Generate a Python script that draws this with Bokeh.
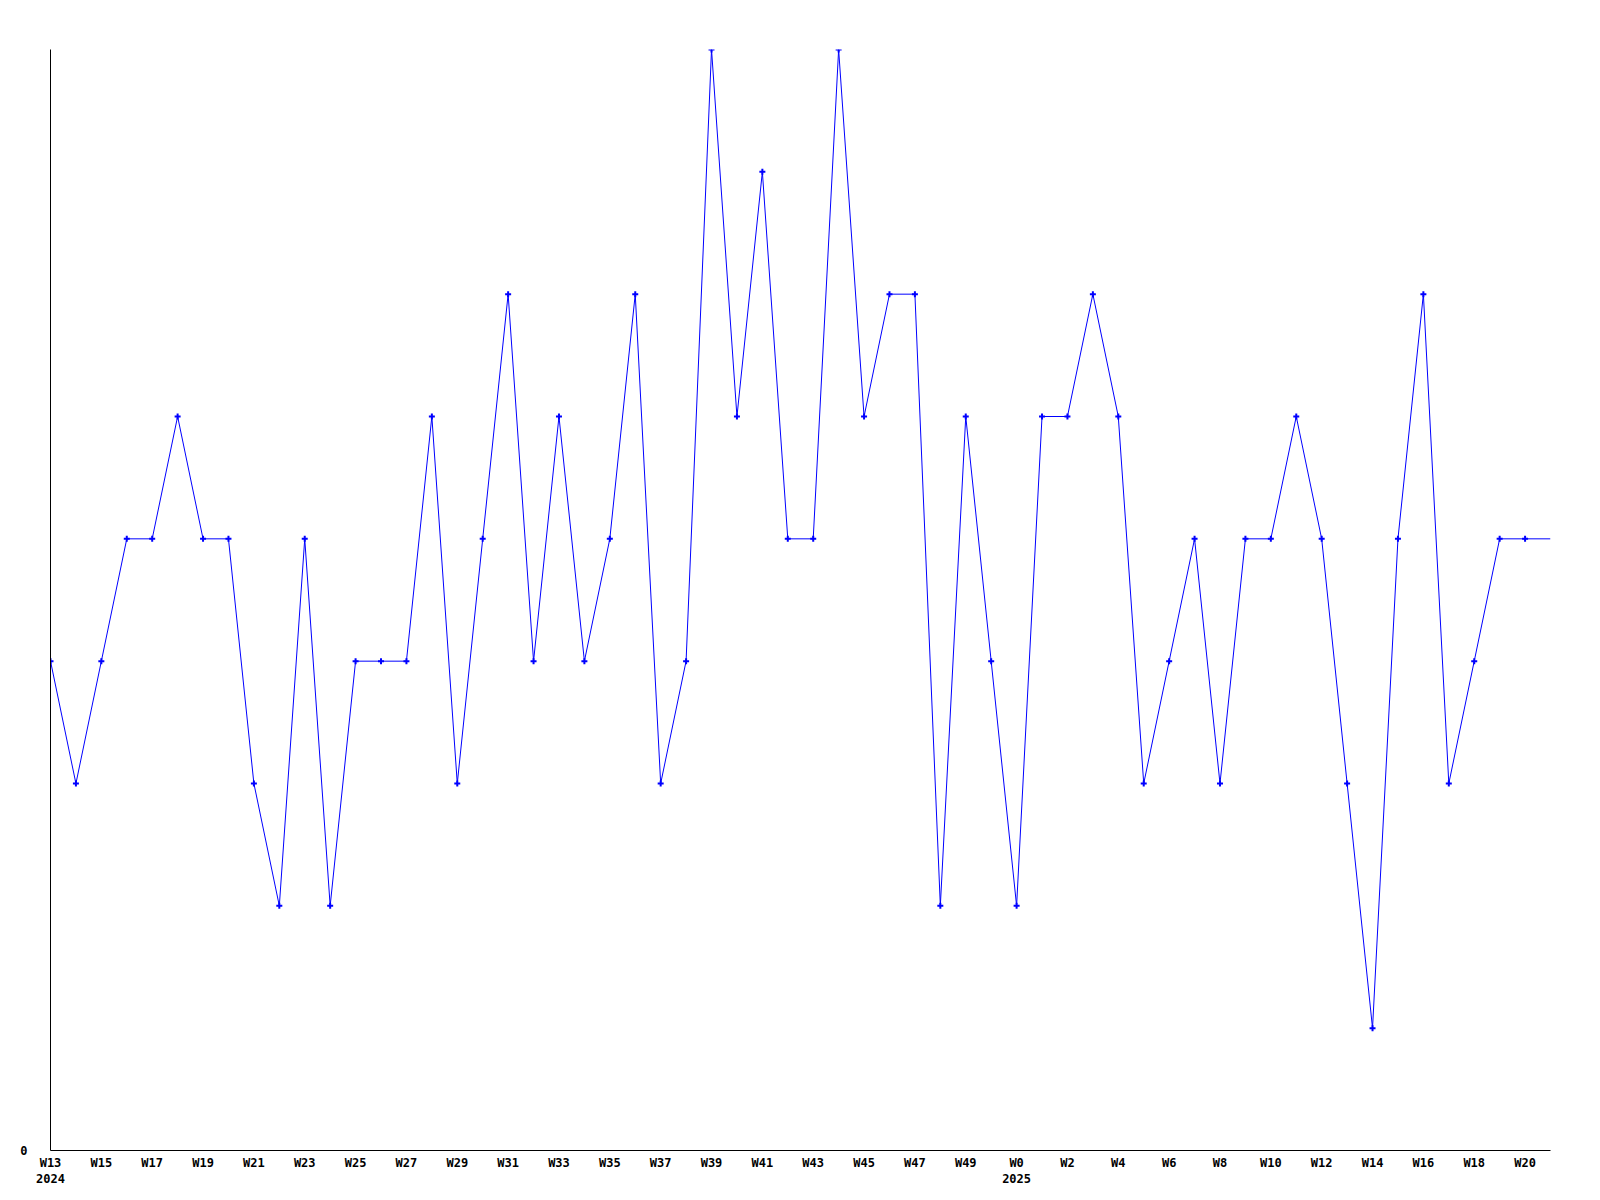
from bokeh.plotting import figure
from bokeh.models import Range1d, FixedTicker, LinearAxis
from bokeh.embed import file_html
from bokeh.resources import INLINE

# Data
weeks = ["W%d" % w for w in range(13, 51)] + ["W%d" % w for w in range(0, 22)]
years = ["2024"] * 38 + ["2025"] * 22
values = [4, 3, 4, 5, 5, 6, 5, 5, 3, 2,
          5, 2, 4, 4, 4, 6, 3, 5, 7, 4,
          6, 4, 5, 7, 3, 4, 9, 6, 8, 5,
          5, 9, 6, 7, 7, 2, 6, 4, 2, 6,
          6, 7, 6, 3, 4, 5, 3, 5, 5, 6,
          5, 3, 1, 5, 7, 3, 4, 5, 5, 5]
y_ticks = [0]

x = list(range(len(values)))

p = figure(width=1584, height=1189, output_backend="svg", toolbar_location=None,
           x_range=Range1d(0, len(values) - 1), y_range=Range1d(0, 9),
           x_axis_location=None, y_axis_location=None,
           min_border_left=50, min_border_right=34, min_border_top=49, min_border_bottom=34)
p.outline_line_color = None
p.xgrid.visible = False
p.ygrid.visible = False
p.background_fill_color = "white"
p.border_fill_color = "white"

FONT = "DejaVu Sans Mono"

# x axis
tick_idx = [i for i in x if i % 2 == 0]
overrides = {}
prev_year = None
for i in tick_idx:
    lab = weeks[i]
    if years[i] != prev_year:
        lab = lab + "\n" + years[i]
        prev_year = years[i]
    overrides[i] = lab
xaxis = LinearAxis(ticker=FixedTicker(ticks=tick_idx), major_label_overrides=overrides)
xaxis.major_tick_line_color = None
xaxis.minor_tick_line_color = None
xaxis.major_tick_out = 0
xaxis.major_label_standoff = 5
xaxis.axis_line_color = "black"
xaxis.axis_line_width = 1
xaxis.major_label_text_font = FONT
xaxis.major_label_text_font_style = "bold"
xaxis.major_label_text_font_size = "12px"
xaxis.major_label_text_color = "black"
p.add_layout(xaxis, "below")

# y axis
yaxis = LinearAxis(ticker=FixedTicker(ticks=y_ticks))
yaxis.major_tick_line_color = None
yaxis.minor_tick_line_color = None
yaxis.major_tick_out = 0
yaxis.major_label_standoff = 23
yaxis.axis_line_color = "black"
yaxis.axis_line_width = 1
yaxis.major_label_text_font = FONT
yaxis.major_label_text_font_style = "bold"
yaxis.major_label_text_font_size = "12px"
yaxis.major_label_text_color = "black"
p.add_layout(yaxis, "left")

p.line(x, values, line_color="#0000ff", line_width=1)
p.scatter(x[:-1], values[:-1], marker="cross", size=6, line_color="#0000ff", line_width=2)

open("out.html", "w").write(file_html(p, INLINE))
